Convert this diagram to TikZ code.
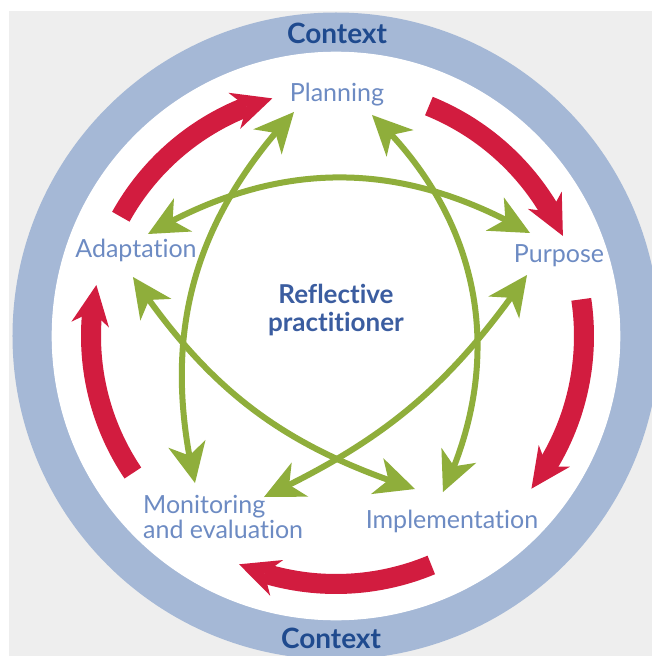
\documentclass[tikz,border=0pt]{standalone}
\usepackage{fontspec}
\setmainfont{Lato}[Ligatures=NoCommon]
\usetikzlibrary{arrows.meta,bending}
\definecolor{paper}{HTML}{EEEEEE}
\definecolor{ringblue}{HTML}{A5B8D6}
\definecolor{darkblue}{HTML}{1F4A8E}
\definecolor{stageblue}{HTML}{6D8BC3}
\definecolor{midblue}{HTML}{3B5DA0}
\definecolor{cyclered}{HTML}{D21C3F}
\definecolor{linkgreen}{HTML}{8FAE3B}
\begin{document}
\begin{tikzpicture}[x=1pt,y=1pt,every node/.style={inner sep=0pt},
    stage/.style={text=stageblue,font=\fontsize{25}{25}\selectfont},
    ctx/.style={text=darkblue,font=\fontsize{28}{28}\selectfont\bfseries},
    turn/.style={draw=cyclered,line width=20pt,
      -{Stealth[length=40pt,width=38pt,inset=13pt,line width=0pt]}},
    link/.style={draw=linkgreen,line width=6pt,
      {Stealth[length=40pt,width=38pt,inset=12pt,line width=0pt]}-{Stealth[length=40pt,width=38pt,inset=12pt,line width=0pt]}}]
  \useasboundingbox (-336,-320) rectangle (316,336);
  \fill[paper] (-327,-320) rectangle (316,325);
  \begin{scope}
    \clip (-336,-320) rectangle (316,336);
    \draw[ringblue,line width=39.5pt] (0,0) circle[radius=303.75];
  \end{scope}
  \fill[white] (0,0) circle[radius=284.3];
  % ring labels
  \node[ctx,anchor=base] (context top) at (1,292) {Context};
  \node[ctx,anchor=base] (context bottom) at (-5,-312) {Context};
  % stages
  \node[stage,anchor=base] (planning) at (1,234) {Planning};
  \node[stage,anchor=base] (purpose) at (223,74) {Purpose};
  \node[stage,anchor=base] (adaptation) at (-200,78) {Adaptation};
  \node[stage,anchor=base] (implementation) at (116,-192) {Implementation};
  \node[stage,anchor=base west,align=left] (monitoring) at (-193,-202) {Monitoring\\and evaluation};
  \node[text=midblue,font=\fontsize{26}{28}\selectfont\bfseries,align=center,anchor=base] (centre) at (0,5) {Reflective\\practitioner};
  % ends of the links
  \coordinate (pla-mon) at (-42,224);
  \coordinate (pla-imp) at (36,221);
  \coordinate (pur-ada) at (194,103);
  \coordinate (pur-mon) at (191,61);
  \coordinate (ada-pur) at (-188,102);
  \coordinate (ada-imp) at (-203,59);
  \coordinate (mon-pla) at (-141,-147);
  \coordinate (mon-pur) at (-72,-161);
  \coordinate (imp-ada) at (79,-153);
  \coordinate (imp-pla) at (107,-156);
  \draw[link] (ada-pur) to[bend left=30] (pur-ada);
  \draw[link] (pla-mon) to[bend right=28] (mon-pla);
  \draw[link] (pla-imp) to[bend left=36] (imp-pla);
  \draw[link] (ada-imp) to[bend right=19] (imp-ada);
  \draw[link] (pur-mon) to[bend left=15] (mon-pur);
  % cycle
  \draw[turn] (151:246) arc[start angle=151,end angle=105,radius=246];
  \draw[turn] (68:248) arc[start angle=68,end angle=23.8,radius=248];
  \draw[turn] (8.5:248) arc[start angle=8.5,end angle=-38,radius=248];
  \draw[turn] (-67.4:248) arc[start angle=-67.4,end angle=-113,radius=248];
  \draw[turn] (-146:245) arc[start angle=-146,end angle=-192,radius=245];
\end{tikzpicture}
\end{document}
